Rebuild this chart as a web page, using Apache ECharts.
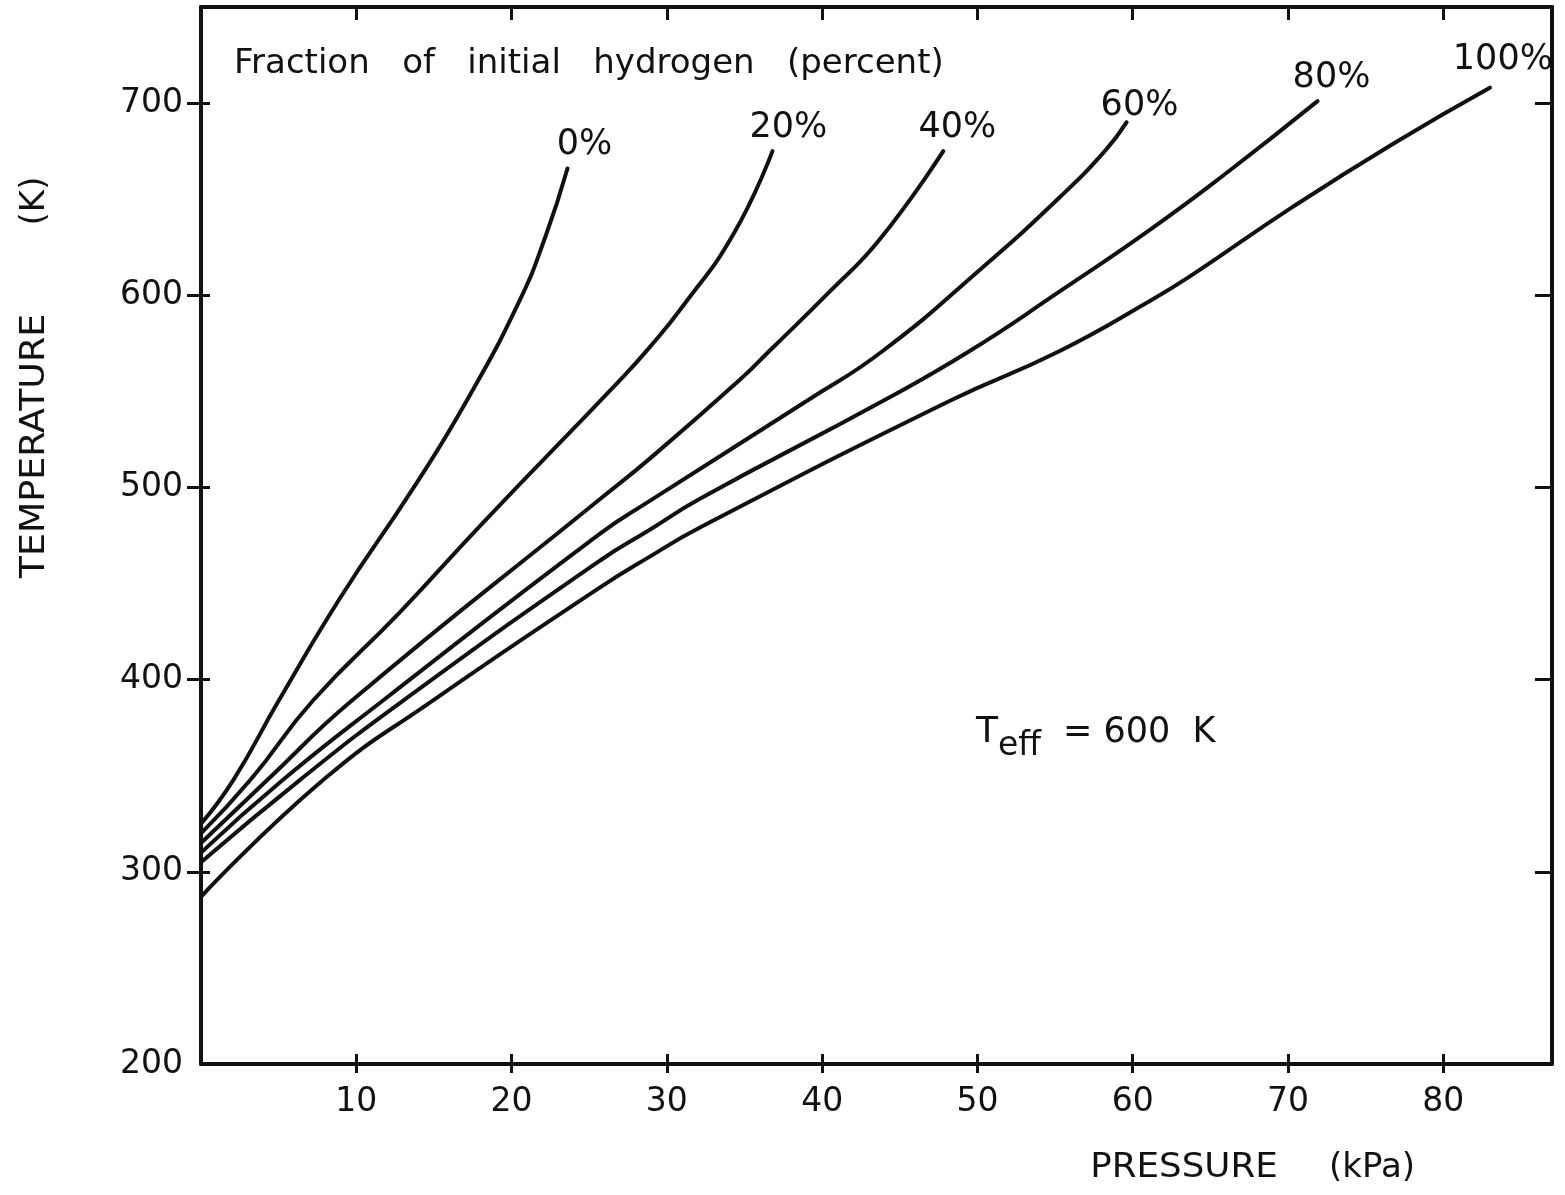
<!DOCTYPE html>
<html>
<head>
<meta charset="utf-8">
<script src="https://cdn.jsdelivr.net/npm/echarts@6/dist/echarts.min.js"></script>
<style>
  html, body { margin: 0; padding: 0; background: #ffffff; }
  #chart { width: 1565px; height: 1195px; }
</style>
</head>
<body>
<div id="chart"></div>
<script>
// Temperature (K) against pressure (kPa), one profile per initial hydrogen fraction
const h0   = [[0, 325], [2.1, 348], [5.0, 389], [9.0, 443], [13.7, 500], [17.1, 545], [20.5, 597], [22.2, 631], [23.6, 666]];
const h20  = [[0, 320], [3.2, 348], [7.2, 389], [12.8, 435], [18.2, 482], [27.0, 556], [28.9, 573], [31.0, 594], [34.3, 632], [36.8, 675]];
const h40  = [[0, 315], [4.3, 348], [9.7, 389], [25.7, 494], [28.9, 515], [34.7, 556], [36.6, 571], [40.5, 602], [43.7, 629], [47.8, 675]];
const h60  = [[0, 310], [5.3, 348], [11.7, 389], [25.7, 476], [28.9, 493], [39.0, 545], [43.9, 571], [50.4, 615], [55.3, 651], [58.2, 675], [59.6, 690]];
const h80  = [[0, 305], [6.4, 348], [13.0, 389], [25.7, 462], [28.9, 478], [32.1, 494], [43.9, 545], [49.5, 571], [55.3, 602], [61.1, 634], [66.1, 664], [71.9, 701]];
const h100 = [[0, 287], [7.9, 348], [14.9, 389], [25.7, 448], [28.9, 464], [32.1, 479], [48.2, 545], [55.3, 571], [61.1, 597], [63.9, 611], [70.3, 646], [76.8, 679], [83.0, 708]];

const fractionNames = ['0%', '20%', '40%', '60%', '80%', '100%'];
const profiles = [h0, h20, h40, h60, h80, h100];

const xTicks = [10, 20, 30, 40, 50, 60, 70, 80];
const yLabels = [200, 300, 400, 500, 600, 700];
const yTicks = [300, 400, 500, 600, 700];

// label placement next to each curve's upper end (pixels)
const labelOffsets = [[17, -24], [16, -23], [14, -23], [13, -16], [14, -23], [13, -28]];

const INK = '#111111';
const FONT = 'DejaVu Sans';

const chart = echarts.init(document.getElementById('chart'), null, { renderer: 'canvas' });

const xRange = { min: 0, max: 87, interval: 10 };
const yRange = { min: 200, max: 750, interval: 100 };

const tickStyle = { color: INK, width: 3 };

function label(text, x, y, size, opts) {
  const o = opts || {};
  return {
    type: 'text', x: x, y: y,
    rotation: o.rotation || 0,
    scaleX: o.scaleX || 1,
    style: {
      text: text,
      font: size + 'px "' + FONT + '"',
      fill: INK,
      textAlign: o.align || 'center', align: o.align || 'center',
      textVerticalAlign: 'middle', verticalAlign: 'middle'
    }
  };
}

const option = {
  backgroundColor: '#ffffff',
  animation: false,
  textStyle: { fontFamily: FONT, color: INK },
  grid: { left: 201, right: 13, top: 7, bottom: 131, containLabel: false },
  xAxis: [
    {
      type: 'value', position: 'bottom', ...xRange,
      axisLine: { show: true, onZero: false, lineStyle: { color: INK, width: 4 } },
      axisTick: { show: true, inside: false, length: 9, customValues: xTicks, lineStyle: tickStyle },
      axisLabel: { show: true, customValues: xTicks, margin: 22, fontSize: 33, color: INK, fontFamily: FONT },
      splitLine: { show: false }
    },
    {
      type: 'value', position: 'bottom', ...xRange,
      axisLine: { show: false },
      axisTick: { show: true, inside: true, length: 10, customValues: xTicks, lineStyle: tickStyle },
      axisLabel: { show: false },
      splitLine: { show: false }
    },
    {
      type: 'value', position: 'top', ...xRange,
      axisLine: { show: true, onZero: false, lineStyle: { color: INK, width: 4 } },
      axisTick: { show: true, inside: true, length: 13, customValues: xTicks, lineStyle: tickStyle },
      axisLabel: { show: false },
      splitLine: { show: false }
    }
  ],
  yAxis: [
    {
      type: 'value', position: 'left', ...yRange,
      axisLine: { show: true, onZero: false, lineStyle: { color: INK, width: 4 } },
      axisTick: { show: true, inside: false, length: 14, customValues: yTicks, lineStyle: tickStyle },
      axisLabel: { show: true, customValues: yLabels, margin: 18, fontSize: 33, color: INK, fontFamily: FONT },
      splitLine: { show: false }
    },
    {
      type: 'value', position: 'left', ...yRange,
      axisLine: { show: false },
      axisTick: { show: true, inside: true, length: 9, customValues: yTicks, lineStyle: tickStyle },
      axisLabel: { show: false },
      splitLine: { show: false }
    },
    {
      type: 'value', position: 'right', ...yRange,
      axisLine: { show: true, onZero: false, lineStyle: { color: INK, width: 4 } },
      axisTick: { show: true, inside: true, length: 17, customValues: yTicks, lineStyle: tickStyle },
      axisLabel: { show: false },
      splitLine: { show: false }
    }
  ],
  series: profiles.map((data, i) => ({
    name: fractionNames[i],
    type: 'line',
    xAxisIndex: 0,
    yAxisIndex: 0,
    data: data,
    smooth: 0.5,
    showSymbol: false,
    symbol: 'none',
    silent: true,
    lineStyle: { color: INK, width: 4, cap: 'round' },
    markPoint: {
      silent: true,
      symbol: 'circle',
      symbolSize: 1,
      itemStyle: { color: 'rgba(0,0,0,0)' },
      data: [{ coord: data[data.length - 1] }],
      label: {
        show: true,
        position: 'inside',
        formatter: fractionNames[i],
        offset: labelOffsets[i],
        fontSize: 35,
        color: INK,
        fontFamily: FONT
      }
    }
  })),
  graphic: [
    label('TEMPERATURE', 35, 446, 34, { rotation: Math.PI / 2, scaleX: 1.07 }),
    label('(K)', 35, 201, 34, { rotation: Math.PI / 2 }),
    label('PRESSURE', 1184, 1168, 34, { scaleX: 1.05 }),
    label('(kPa)', 1372, 1168, 34),
    label('Fraction   of   initial   hydrogen   (percent)', 234, 64, 34, { align: 'left' }),
    label('T', 976, 733, 36, { align: 'left' }),
    label('eff', 998, 746, 33, { align: 'left' }),
    label('= 600  K', 1063, 733, 35, { align: 'left' })
  ]
};

chart.setOption(option);
</script>
</body>
</html>
